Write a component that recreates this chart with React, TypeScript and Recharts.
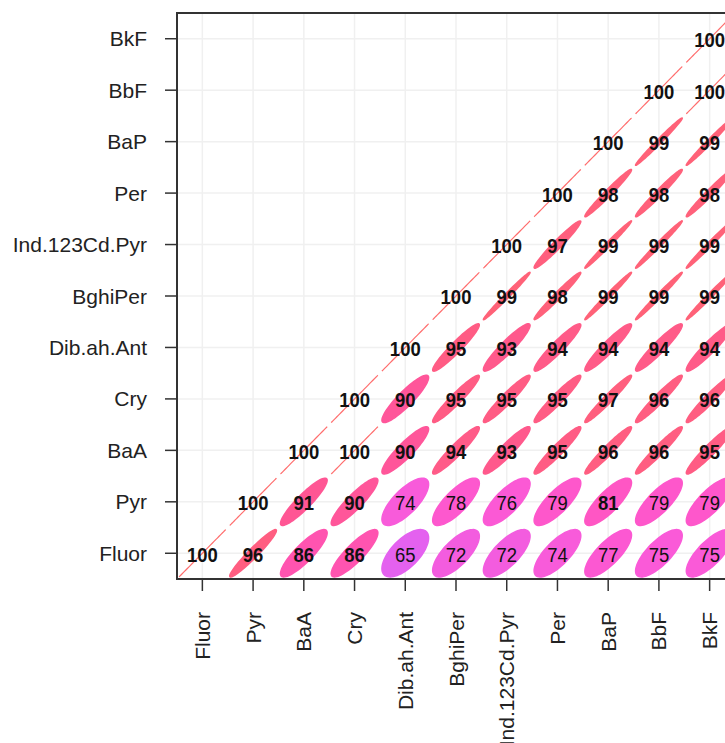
import React from "react";
import {
  ScatterChart,
  Scatter,
  XAxis,
  YAxis,
  CartesianGrid,
  ReferenceArea,
} from "recharts";

// variable names, bottom-to-top on y and left-to-right on x
const VARS = [
  "Fluor",
  "Pyr",
  "BaA",
  "Cry",
  "Dib.ah.Ant",
  "BghiPer",
  "Ind.123Cd.Pyr",
  "Per",
  "BaP",
  "BbF",
  "BkF",
];

// correlation (%) of each row, starting at the diagonal cell
const fluorRow = [100, 96, 86, 86, 65, 72, 72, 74, 77, 75, 75];
const pyrRow = [100, 91, 90, 74, 78, 76, 79, 81, 79, 79];
const baaRow = [100, 100, 90, 94, 93, 95, 96, 96, 95];
const cryRow = [100, 90, 95, 95, 95, 97, 96, 96];
const dibRow = [100, 95, 93, 94, 94, 94, 94];
const bghiRow = [100, 99, 98, 99, 99, 99];
const indRow = [100, 97, 99, 99, 99];
const perRow = [100, 98, 98, 98];
const bapRow = [100, 99, 99];
const bbfRow = [100, 100];
const bkfRow = [100];

const ROWS = [
  fluorRow,
  pyrRow,
  baaRow,
  cryRow,
  dibRow,
  bghiRow,
  indRow,
  perRow,
  bapRow,
  bbfRow,
  bkfRow,
];

const TICKS = VARS.map((_, i) => i + 1);

const cells = ROWS.flatMap((row, i) =>
  row.map((v, k) => ({ x: i + k + 1, y: i + 1, v }))
);

// layout
const CHART_W = 760;
const CHART_H = 743;
const PLOT_LEFT = 177;
const PLOT_TOP = 13;
const PLOT_W = 558;
const PLOT_H = 566;
const CELL_W = PLOT_W / VARS.length;
const CELL_H = PLOT_H / VARS.length;

const STOPS: [number, number[]][] = [
  [0.65, [228, 97, 239]],
  [0.75, [250, 90, 216]],
  [0.8, [255, 86, 200]],
  [0.86, [255, 84, 176]],
  [0.91, [255, 86, 148]],
  [0.95, [255, 92, 132]],
  [0.99, [255, 98, 120]],
  [1.0, [255, 110, 110]],
];

const colorFor = (r: number) => {
  if (r <= STOPS[0][0]) return `rgb(${STOPS[0][1].join(",")})`;
  for (let i = 1; i < STOPS.length; i++) {
    const [r1, c1] = STOPS[i];
    const [r0, c0] = STOPS[i - 1];
    if (r <= r1) {
      const t = (r - r0) / (r1 - r0);
      const c = c0.map((a, j) => Math.round(a + (c1[j] - a) * t));
      return `rgb(${c.join(",")})`;
    }
  }
  return `rgb(${STOPS[STOPS.length - 1][1].join(",")})`;
};

const EllipseShape = (props: any) => {
  const { cx, cy, payload } = props;
  if (cx == null || cy == null) return null;
  const r = Math.min(payload.v / 100, 1);
  const d = Math.acos(r);
  const kx = CELL_W * 0.46;
  const ky = CELL_H * 0.46;
  const pts: string[] = [];
  for (let i = 0; i <= 72; i++) {
    const a = (i / 72) * Math.PI * 2;
    const px = cx + kx * Math.cos(a + d / 2);
    const py = cy - ky * Math.cos(a - d / 2);
    pts.push(`${px.toFixed(2)},${py.toFixed(2)}`);
  }
  const col = colorFor(r);
  return (
    <path
      d={"M" + pts.join("L") + "Z"}
      fill={col}
      stroke={col}
      strokeWidth={r >= 1 ? 1.2 : 1.5}
    />
  );
};

// numbers are a bit condensed in the original
const ValueShape = (props: any) => {
  const { cx, cy, payload } = props;
  if (cx == null || cy == null) return null;
  return (
    <text
      transform={`translate(${cx},${cy + 1}) scale(0.88,1)`}
      textAnchor="middle"
      dominantBaseline="central"
      fontFamily="Arial, 'Liberation Sans', sans-serif"
      fontSize={21}
      fontWeight={payload.v >= 80 ? "bold" : "normal"}
      fill="#111"
    >
      {payload.v}
    </text>
  );
};

const YTick = ({ x, y, payload }: any) => (
  <text
    x={x}
    y={y}
    textAnchor="end"
    dominantBaseline="central"
    fontFamily="Arial, 'Liberation Sans', sans-serif"
    fontSize={21}
    fill="#222"
  >
    {VARS[payload.value - 1]}
  </text>
);

const XTick = ({ x, y, payload }: any) => (
  <text
    transform={`translate(${x},${y}) rotate(-90)`}
    textAnchor="end"
    dominantBaseline="central"
    fontFamily="Arial, 'Liberation Sans', sans-serif"
    fontSize={21}
    fill="#222"
  >
    {VARS[payload.value - 1]}
  </text>
);

export default function App() {
  return (
    <div
      style={{
        position: "absolute",
        left: 0,
        top: 0,
        width: 725,
        height: 743,
        overflow: "hidden",
        background: "#fff",
      }}
    >
      <ScatterChart
        width={CHART_W}
        height={CHART_H}
        margin={{
          top: PLOT_TOP,
          left: 0,
          right: CHART_W - PLOT_LEFT - PLOT_W,
          bottom: 0,
        }}
      >
        <CartesianGrid stroke="#f0f0f0" strokeWidth={1.5} />
        <XAxis
          type="number"
          dataKey="x"
          domain={[0.5, VARS.length + 0.5]}
          ticks={TICKS}
          interval={0}
          height={CHART_H - PLOT_TOP - PLOT_H}
          axisLine={false}
          tickSize={12}
          tickMargin={21}
          tickLine={{ stroke: "#333", strokeWidth: 1.5 }}
          tick={XTick}
        />
        <YAxis
          type="number"
          dataKey="y"
          domain={[0.5, VARS.length + 0.5]}
          ticks={TICKS}
          interval={0}
          width={PLOT_LEFT}
          axisLine={false}
          tickSize={12}
          tickMargin={18}
          tickLine={{ stroke: "#333", strokeWidth: 1.5 }}
          tick={YTick}
        />
        <Scatter
          data={cells}
          shape={EllipseShape}
          isAnimationActive={false}
        />
        <Scatter data={cells} shape={ValueShape} isAnimationActive={false} />
        <ReferenceArea
          x1={0.5}
          x2={VARS.length + 0.5}
          y1={0.5}
          y2={VARS.length + 0.5}
          fill="none"
          stroke="#333"
          strokeWidth={2}
        />
      </ScatterChart>
    </div>
  );
}
